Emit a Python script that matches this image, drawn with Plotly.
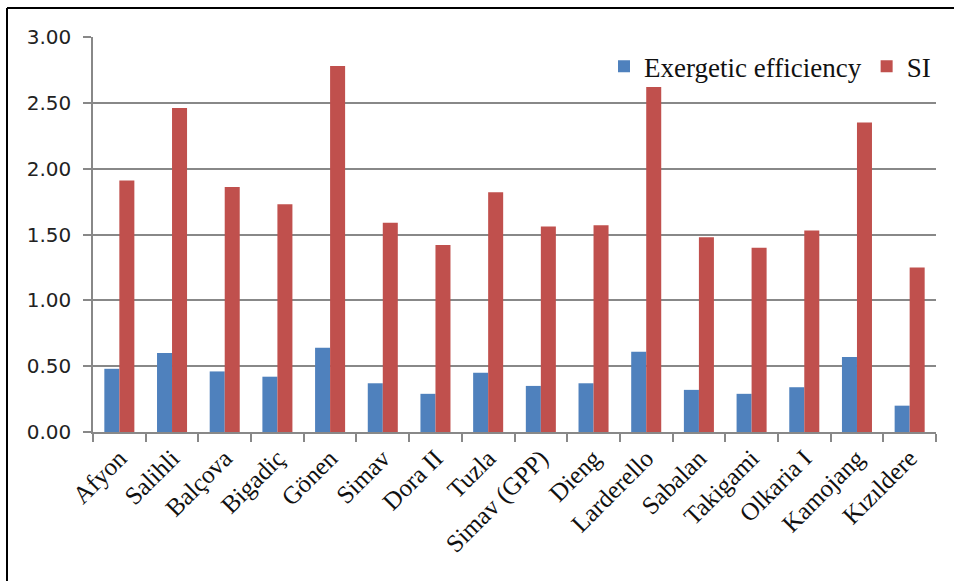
import plotly.graph_objects as go

categories = ["Afyon", "Salihli", "Balçova", "Bigadiç", "Gönen", "Simav", "Dora II", "Tuzla",
              "Simav (GPP)", "Dieng", "Larderello", "Sabalan", "Takigami", "Olkaria I",
              "Kamojang", "Kızıldere"]
exergetic = [0.48, 0.60, 0.46, 0.42, 0.64, 0.37, 0.29, 0.45, 0.35, 0.37, 0.61, 0.32, 0.29, 0.34, 0.57, 0.20]
si = [1.91, 2.46, 1.86, 1.73, 2.78, 1.59, 1.42, 1.82, 1.56, 1.57, 2.62, 1.48, 1.40, 1.53, 2.35, 1.25]
y_ticks = [0, 0.5, 1.0, 1.5, 2.0, 2.5, 3.0]
y_tick_text = ["0.00", "0.50", "1.00", "1.50", "2.00", "2.50", "3.00"]

W, H = 954, 581
L, R, T, B = 93, 18, 37, 149
pw, ph = W - L - R, H - T - B

fig = go.Figure()
fig.add_trace(go.Bar(x=categories, y=exergetic, name="Exergetic efficiency",
                     marker=dict(color="#4F81BD", line=dict(width=0))))
fig.add_trace(go.Bar(x=categories, y=si, name="SI",
                     marker=dict(color="#C0504D", line=dict(width=0))))

fig.update_layout(
    width=W, height=H,
    margin=dict(l=L, r=R, t=T, b=B, pad=0),
    paper_bgcolor="white", plot_bgcolor="white",
    barmode="group", bargap=0.43, bargroupgap=0,
    font=dict(family="Liberation Serif", color="#111111"),
    legend=dict(orientation="h", x=1.0, xanchor="right", y=0.925, yanchor="middle",
                font=dict(family="Liberation Serif", size=27, color="#111111"),
                bgcolor="rgba(0,0,0,0)", itemwidth=30, tracegroupgap=0),
    xaxis=dict(showgrid=False, showline=True, linecolor="#888888", linewidth=1.5,
               ticks="outside", ticklen=8, tickcolor="#888888", tickwidth=1.5,
               tickson="boundaries", tickangle=-45,
               tickfont=dict(family="Liberation Serif", size=25, color="#111111")),
    yaxis=dict(range=[0, 3.0], tickvals=y_ticks, ticktext=y_tick_text,
               showgrid=True, gridcolor="#888888", gridwidth=1.5,
               showline=True, linecolor="#888888", linewidth=1.5,
               ticks="outside", ticklen=8, tickcolor="#888888", tickwidth=1.5,
               ticklabelstandoff=8, zeroline=False,
               tickfont=dict(family="DejaVu Sans", size=20, color="#222222")),
)

# outer frame (only top and left edges visible in the reference)
fx = (7 - L) / pw
fy = 1 + (T - 8) / ph
fig.add_shape(type="line", xref="paper", yref="paper", x0=fx, x1=(W + 10 - L) / pw, y0=fy, y1=fy,
              line=dict(color="black", width=2))
fig.add_shape(type="line", xref="paper", yref="paper", x0=fx, x1=fx, y0=fy, y1=-(B + 10) / ph,
              line=dict(color="black", width=2))

fig.write_html("out.html")
